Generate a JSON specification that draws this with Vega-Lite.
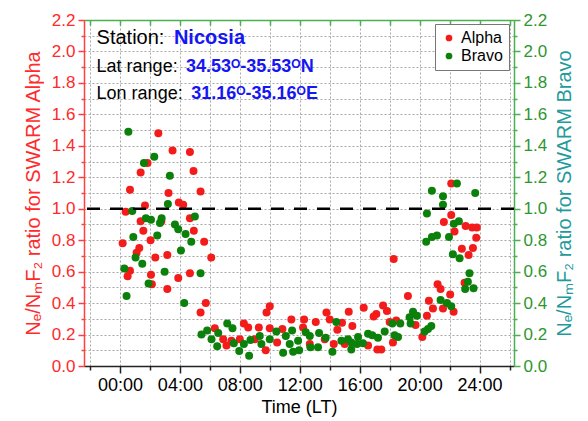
{
"$schema": "https://vega.github.io/schema/vega-lite/v6.json",
"width": 430, "height": 346,
"autosize": {"type": "none"},
"padding": {"left": 84, "top": 20, "right": 74, "bottom": 55},
"config": {"view": {"stroke": null}, "font": "Liberation Sans", "background": "white"},
"datasets": {
"alpha": [
{"t":2.56,"r":1.48,"sat":"Alpha"},{"t":3.51,"r":1.37,"sat":"Alpha"},{"t":4.67,"r":1.36,"sat":"Alpha"},{"t":1.84,"r":1.29,"sat":"Alpha"},{"t":1.38,"r":1.23,"sat":"Alpha"},{"t":4.91,"r":1.24,"sat":"Alpha"},{"t":0.67,"r":1.12,"sat":"Alpha"},{"t":5.38,"r":1.11,"sat":"Alpha"},{"t":3.24,"r":1.10,"sat":"Alpha"},{"t":1.67,"r":1.02,"sat":"Alpha"},{"t":3.93,"r":1.04,"sat":"Alpha"},{"t":4.22,"r":1.025,"sat":"Alpha"},{"t":0.38,"r":0.98,"sat":"Alpha"},{"t":4.67,"r":0.94,"sat":"Alpha"},{"t":1.38,"r":0.92,"sat":"Alpha"},{"t":2.76,"r":0.92,"sat":"Alpha"},{"t":4.93,"r":0.86,"sat":"Alpha"},{"t":1.56,"r":0.86,"sat":"Alpha"},{"t":2.04,"r":0.80,"sat":"Alpha"},{"t":0.18,"r":0.78,"sat":"Alpha"},{"t":5.62,"r":0.79,"sat":"Alpha"},{"t":1.29,"r":0.75,"sat":"Alpha"},{"t":1.11,"r":0.72,"sat":"Alpha"},{"t":3.16,"r":0.705,"sat":"Alpha"},{"t":2.36,"r":0.69,"sat":"Alpha"},{"t":6.09,"r":0.69,"sat":"Alpha"},{"t":0.67,"r":0.605,"sat":"Alpha"},{"t":0.51,"r":0.57,"sat":"Alpha"},{"t":4.67,"r":0.59,"sat":"Alpha"},{"t":2.07,"r":0.58,"sat":"Alpha"},{"t":3.89,"r":0.56,"sat":"Alpha"},{"t":2.13,"r":0.52,"sat":"Alpha"},{"t":3.16,"r":0.49,"sat":"Alpha"},{"t":5.73,"r":0.40,"sat":"Alpha"},{"t":5.38,"r":0.34,"sat":"Alpha"},
{"t":10.0,"r":0.38,"sat":"Alpha"},{"t":9.78,"r":0.34,"sat":"Alpha"},{"t":13.78,"r":0.34,"sat":"Alpha"},{"t":6.33,"r":0.24,"sat":"Alpha"},{"t":6.89,"r":0.17,"sat":"Alpha"},{"t":7.11,"r":0.13,"sat":"Alpha"},{"t":8.27,"r":0.27,"sat":"Alpha"},{"t":8.56,"r":0.245,"sat":"Alpha"},{"t":8.0,"r":0.17,"sat":"Alpha"},{"t":9.27,"r":0.245,"sat":"Alpha"},{"t":9.73,"r":0.10,"sat":"Alpha"},{"t":10.0,"r":0.24,"sat":"Alpha"},{"t":10.49,"r":0.15,"sat":"Alpha"},{"t":10.84,"r":0.235,"sat":"Alpha"},{"t":11.44,"r":0.295,"sat":"Alpha"},{"t":12.29,"r":0.295,"sat":"Alpha"},{"t":12.22,"r":0.245,"sat":"Alpha"},{"t":12.67,"r":0.14,"sat":"Alpha"},{"t":13.07,"r":0.28,"sat":"Alpha"},{"t":13.67,"r":0.17,"sat":"Alpha"},{"t":14.0,"r":0.295,"sat":"Alpha"},{"t":14.51,"r":0.23,"sat":"Alpha"},{"t":14.27,"r":0.14,"sat":"Alpha"},{"t":9.0,"r":0.17,"sat":"Alpha"},{"t":7.44,"r":0.16,"sat":"Alpha"},
{"t":21.2,"r":0.52,"sat":"Alpha"},{"t":21.4,"r":0.49,"sat":"Alpha"},{"t":22.04,"r":0.455,"sat":"Alpha"},{"t":19.22,"r":0.445,"sat":"Alpha"},{"t":20.62,"r":0.415,"sat":"Alpha"},{"t":20.89,"r":0.365,"sat":"Alpha"},{"t":21.56,"r":0.365,"sat":"Alpha"},{"t":22.27,"r":0.345,"sat":"Alpha"},{"t":16.27,"r":0.37,"sat":"Alpha"},{"t":17.56,"r":0.385,"sat":"Alpha"},{"t":17.82,"r":0.35,"sat":"Alpha"},{"t":15.27,"r":0.345,"sat":"Alpha"},{"t":17.11,"r":0.33,"sat":"Alpha"},{"t":16.93,"r":0.315,"sat":"Alpha"},{"t":20.49,"r":0.32,"sat":"Alpha"},{"t":19.73,"r":0.26,"sat":"Alpha"},{"t":14.82,"r":0.275,"sat":"Alpha"},{"t":15.51,"r":0.255,"sat":"Alpha"},{"t":18.0,"r":0.28,"sat":"Alpha"},{"t":18.44,"r":0.29,"sat":"Alpha"},{"t":20.18,"r":0.185,"sat":"Alpha"},{"t":18.22,"r":0.15,"sat":"Alpha"},{"t":16.56,"r":0.13,"sat":"Alpha"},{"t":15.0,"r":0.14,"sat":"Alpha"},{"t":17.18,"r":0.105,"sat":"Alpha"},{"t":17.44,"r":0.105,"sat":"Alpha"},
{"t":22.11,"r":1.16,"sat":"Alpha"},{"t":22.11,"r":0.96,"sat":"Alpha"},{"t":21.62,"r":0.915,"sat":"Alpha"},{"t":23.07,"r":0.89,"sat":"Alpha"},{"t":23.51,"r":0.88,"sat":"Alpha"},{"t":23.82,"r":0.88,"sat":"Alpha"},{"t":22.33,"r":0.855,"sat":"Alpha"},{"t":23.78,"r":0.815,"sat":"Alpha"},{"t":23.56,"r":0.75,"sat":"Alpha"},{"t":22.82,"r":0.745,"sat":"Alpha"},{"t":23.27,"r":0.705,"sat":"Alpha"},{"t":23.0,"r":0.53,"sat":"Alpha"},{"t":18.27,"r":0.68,"sat":"Alpha"}
],
"bravo": [
{"t":0.56,"r":1.49,"sat":"Bravo"},{"t":2.29,"r":1.33,"sat":"Bravo"},{"t":1.6,"r":1.29,"sat":"Bravo"},{"t":3.33,"r":1.21,"sat":"Bravo"},{"t":3.2,"r":1.03,"sat":"Bravo"},{"t":0.82,"r":0.985,"sat":"Bravo"},{"t":5.0,"r":0.95,"sat":"Bravo"},{"t":1.73,"r":0.94,"sat":"Bravo"},{"t":2.07,"r":0.93,"sat":"Bravo"},{"t":2.78,"r":0.94,"sat":"Bravo"},{"t":2.67,"r":0.91,"sat":"Bravo"},{"t":3.67,"r":0.90,"sat":"Bravo"},{"t":3.89,"r":0.87,"sat":"Bravo"},{"t":4.38,"r":0.84,"sat":"Bravo"},{"t":2.49,"r":0.83,"sat":"Bravo"},{"t":0.89,"r":0.82,"sat":"Bravo"},{"t":4.76,"r":0.79,"sat":"Bravo"},{"t":4.07,"r":0.735,"sat":"Bravo"},{"t":1.04,"r":0.69,"sat":"Bravo"},{"t":1.49,"r":0.65,"sat":"Bravo"},{"t":0.29,"r":0.62,"sat":"Bravo"},{"t":2.98,"r":0.60,"sat":"Bravo"},{"t":5.38,"r":0.59,"sat":"Bravo"},{"t":1.91,"r":0.525,"sat":"Bravo"},{"t":0.44,"r":0.445,"sat":"Bravo"},{"t":4.29,"r":0.40,"sat":"Bravo"},
{"t":5.82,"r":0.225,"sat":"Bravo"},{"t":5.44,"r":0.20,"sat":"Bravo"},{"t":6.56,"r":0.21,"sat":"Bravo"},{"t":6.11,"r":0.17,"sat":"Bravo"},{"t":6.49,"r":0.125,"sat":"Bravo"},{"t":7.16,"r":0.27,"sat":"Bravo"},{"t":7.51,"r":0.24,"sat":"Bravo"},{"t":7.6,"r":0.145,"sat":"Bravo"},{"t":8.27,"r":0.14,"sat":"Bravo"},{"t":7.96,"r":0.095,"sat":"Bravo"},{"t":8.62,"r":0.065,"sat":"Bravo"},{"t":8.71,"r":0.165,"sat":"Bravo"},{"t":9.33,"r":0.19,"sat":"Bravo"},{"t":9.44,"r":0.14,"sat":"Bravo"},{"t":10.0,"r":0.17,"sat":"Bravo"},{"t":10.44,"r":0.22,"sat":"Bravo"},{"t":10.89,"r":0.085,"sat":"Bravo"},{"t":11.07,"r":0.19,"sat":"Bravo"},{"t":11.49,"r":0.225,"sat":"Bravo"},{"t":11.33,"r":0.14,"sat":"Bravo"},{"t":11.89,"r":0.16,"sat":"Bravo"},{"t":11.56,"r":0.09,"sat":"Bravo"},{"t":11.96,"r":0.10,"sat":"Bravo"},{"t":12.4,"r":0.215,"sat":"Bravo"},{"t":12.67,"r":0.19,"sat":"Bravo"},{"t":12.71,"r":0.12,"sat":"Bravo"},{"t":13.29,"r":0.21,"sat":"Bravo"},{"t":13.22,"r":0.12,"sat":"Bravo"},{"t":13.73,"r":0.18,"sat":"Bravo"},{"t":14.44,"r":0.28,"sat":"Bravo"},{"t":14.18,"r":0.09,"sat":"Bravo"},
{"t":21.4,"r":0.42,"sat":"Bravo"},{"t":21.82,"r":0.40,"sat":"Bravo"},{"t":22.11,"r":0.38,"sat":"Bravo"},{"t":19.56,"r":0.345,"sat":"Bravo"},{"t":19.33,"r":0.31,"sat":"Bravo"},{"t":19.82,"r":0.32,"sat":"Bravo"},{"t":19.4,"r":0.27,"sat":"Bravo"},{"t":18.18,"r":0.27,"sat":"Bravo"},{"t":18.71,"r":0.27,"sat":"Bravo"},{"t":20.78,"r":0.255,"sat":"Bravo"},{"t":20.56,"r":0.235,"sat":"Bravo"},{"t":20.33,"r":0.22,"sat":"Bravo"},{"t":17.67,"r":0.22,"sat":"Bravo"},{"t":18.33,"r":0.195,"sat":"Bravo"},{"t":18.56,"r":0.185,"sat":"Bravo"},{"t":16.56,"r":0.205,"sat":"Bravo"},{"t":16.84,"r":0.195,"sat":"Bravo"},{"t":17.22,"r":0.18,"sat":"Bravo"},{"t":15.89,"r":0.185,"sat":"Bravo"},{"t":15.22,"r":0.17,"sat":"Bravo"},{"t":14.78,"r":0.16,"sat":"Bravo"},{"t":15.44,"r":0.15,"sat":"Bravo"},{"t":16.22,"r":0.145,"sat":"Bravo"},{"t":15.82,"r":0.14,"sat":"Bravo"},{"t":15.44,"r":0.105,"sat":"Bravo"},
{"t":22.49,"r":1.16,"sat":"Bravo"},{"t":20.82,"r":1.115,"sat":"Bravo"},{"t":23.71,"r":1.10,"sat":"Bravo"},{"t":21.56,"r":1.08,"sat":"Bravo"},{"t":21.56,"r":1.025,"sat":"Bravo"},{"t":20.49,"r":0.97,"sat":"Bravo"},{"t":22.62,"r":0.92,"sat":"Bravo"},{"t":22.29,"r":0.905,"sat":"Bravo"},{"t":21.96,"r":0.82,"sat":"Bravo"},{"t":21.16,"r":0.83,"sat":"Bravo"},{"t":20.82,"r":0.82,"sat":"Bravo"},{"t":20.44,"r":0.79,"sat":"Bravo"},{"t":22.22,"r":0.71,"sat":"Bravo"},{"t":22.67,"r":0.685,"sat":"Bravo"},{"t":23.33,"r":0.59,"sat":"Bravo"},{"t":23.22,"r":0.535,"sat":"Bravo"},{"t":23.6,"r":0.495,"sat":"Bravo"},{"t":23.04,"r":0.49,"sat":"Bravo"}
]
},
"layer": [
{
"data": {"name": "alpha"},
"mark": {"type": "circle", "size": 64, "opacity": 1},
"encoding": {
"x": {"field": "t", "type": "quantitative", "scale": {"domain": [-2.4, 26.3], "nice": false, "zero": false},
"axis": {"orient": "bottom", "values": [-2,0,2,4,6,8,10,12,14,16,18,20,22,24,26],
"labelExpr": "datum.value % 4 == 0 && datum.value >= 0 && datum.value <= 24 ? (datum.value < 10 ? '0' : '') + datum.value + ':00' : ''",
"labelFontSize": 18, "labelColor": "black", "labelFont": "Liberation Sans", "labelPadding": 3,
"tickColor": "#222", "domainColor": "#222", "domainWidth": 1.5, "tickWidth": 1.5,
"tickSize": {"condition": {"test": "datum.value % 4 == 0", "value": 7}, "value": 4},
"title": "Time (LT)", "titleFontSize": 18, "titleFontWeight": "normal", "titleColor": "black", "titleFont": "Liberation Sans", "titlePadding": 4,
"grid": true, "gridColor": "#a8a8a8", "gridDash": [2, 2], "labelFlush": false, "labelOverlap": false}},
"y": {"field": "r", "type": "quantitative", "scale": {"domain": [0, 2.2], "nice": false},
"axis": {"orient": "left", "values": [0,0.1,0.2,0.3,0.4,0.5,0.6,0.7,0.8,0.9,1,1.1,1.2,1.3,1.4,1.5,1.6,1.7,1.8,1.9,2,2.1,2.2],
"labelExpr": "round(datum.value*10) % 2 == 0 ? format(datum.value, '.1f') : ''",
"labelFontSize": 17, "labelColor": "#ff2a2a", "labelFont": "Liberation Sans", "labelPadding": 3,
"tickColor": "#ff4040", "domainColor": "#ff4040", "domainWidth": 1.5, "tickWidth": 1.5,
"tickSize": {"condition": {"test": "round(datum.value*10) % 2 == 0", "value": 6}, "value": 3},
"title": "Nₑ/NₘF₂ ratio for SWARM Alpha", "titleColor": "#ff2a2a", "titleFontSize": 20, "titleFontWeight": "normal", "titleFont": "Liberation Sans", "titlePadding": 8,
"grid": true, "gridColor": "#a8a8a8", "gridDash": [2, 2], "labelOverlap": false, "labelFlush": false}},
"color": {"field": "sat", "type": "nominal", "scale": {"domain": ["Alpha", "Bravo"], "range": ["#f41b1b", "#0b800b"]},
"legend": {"orient": "none", "legendX": 351, "legendY": 4, "title": null, "fillColor": "white", "strokeColor": "#777", "padding": 6,
"symbolType": "circle", "symbolSize": 45, "labelFontSize": 16, "labelFont": "Liberation Sans", "labelColor": "black", "rowPadding": 2, "cornerRadius": 0}}
}
},
{
"data": {"name": "bravo"},
"mark": {"type": "circle", "size": 64, "opacity": 1},
"encoding": {
"x": {"field": "t", "type": "quantitative", "scale": {"domain": [-2.4, 26.3], "nice": false, "zero": false},
"axis": {"orient": "top", "values": [-2,0,2,4,6,8,10,12,14,16,18,20,22,24,26], "labels": false, "title": null, "grid": false, "domain": false,
"tickColor": "#4caf50", "tickWidth": 1.5, "tickSize": 5, "offset": -5}},
"y": {"field": "r", "type": "quantitative", "scale": {"domain": [0, 2.2], "nice": false},
"axis": {"orient": "right", "values": [0,0.1,0.2,0.3,0.4,0.5,0.6,0.7,0.8,0.9,1,1.1,1.2,1.3,1.4,1.5,1.6,1.7,1.8,1.9,2,2.1,2.2],
"labelExpr": "round(datum.value*10) % 2 == 0 ? format(datum.value, '.1f') : ''",
"labelFontSize": 17, "labelColor": "#2e962e", "labelFont": "Liberation Sans", "labelPadding": 3,
"tickColor": "#4caf50", "domainColor": "#4caf50", "domainWidth": 1.5, "tickWidth": 1.5,
"tickSize": {"condition": {"test": "round(datum.value*10) % 2 == 0", "value": 6}, "value": 3},
"title": "Nₑ/NₘF₂ ratio for SWARM Bravo", "titleColor": "#1f9b9b", "titleFontSize": 20, "titleFontWeight": "normal", "titleFont": "Liberation Sans", "titlePadding": 8, "titleAngle": 270, "titleBaseline": "top",
"grid": false, "labelOverlap": false, "labelFlush": false}},
"color": {"field": "sat", "type": "nominal", "scale": {"domain": ["Alpha", "Bravo"], "range": ["#f41b1b", "#0b800b"]}}
}
},
{
"data": {"values": [{}]},
"mark": {"type": "rule", "color": "black", "strokeDash": [13, 10], "strokeWidth": 2.5},
"encoding": {"y": {"datum": 1, "scale": {"domain": [0, 2.2], "nice": false}, "axis": null}}
},
{
"data": {"values": [{}]},
"mark": {"type": "text", "text": "Station: ", "align": "left", "baseline": "middle", "fontSize": 20, "font": "Liberation Sans", "color": "black"},
"encoding": {"x": {"datum": -1.56, "scale": {"domain": [-2.4, 26.3], "nice": false, "zero": false},
"axis": {"orient": "top", "values": [0], "labels": false, "ticks": false, "grid": false, "title": null, "domain": true, "domainColor": "#4caf50", "domainWidth": 1.5}},
"y": {"datum": 2.085, "scale": {"domain": [0, 2.2], "nice": false}, "axis": null}}
},
{
"data": {"values": [{}]},
"mark": {"type": "text", "text": "Nicosia", "align": "left", "baseline": "middle", "fontSize": 20, "fontWeight": "bold", "font": "Liberation Sans", "color": "#1515f5"},
"encoding": {"x": {"datum": 3.6, "scale": {"domain": [-2.4, 26.3], "nice": false, "zero": false}, "axis": null}, "y": {"datum": 2.085, "scale": {"domain": [0, 2.2], "nice": false}, "axis": null}}
},
{
"data": {"values": [{}]},
"mark": {"type": "text", "text": "Lat range: ", "align": "left", "baseline": "middle", "fontSize": 18, "font": "Liberation Sans", "color": "black"},
"encoding": {"x": {"datum": -1.56, "scale": {"domain": [-2.4, 26.3], "nice": false, "zero": false}, "axis": null}, "y": {"datum": 1.9, "scale": {"domain": [0, 2.2], "nice": false}, "axis": null}}
},
{
"data": {"values": [{}]},
"mark": {"type": "text", "text": "34.53ᴼ-35.53ᴼN", "align": "left", "baseline": "middle", "fontSize": 18, "fontWeight": "bold", "font": "Liberation Sans", "color": "#1515f5"},
"encoding": {"x": {"datum": 4.4, "scale": {"domain": [-2.4, 26.3], "nice": false, "zero": false}, "axis": null}, "y": {"datum": 1.9, "scale": {"domain": [0, 2.2], "nice": false}, "axis": null}}
},
{
"data": {"values": [{}]},
"mark": {"type": "text", "text": "Lon range: ", "align": "left", "baseline": "middle", "fontSize": 18, "font": "Liberation Sans", "color": "black"},
"encoding": {"x": {"datum": -1.56, "scale": {"domain": [-2.4, 26.3], "nice": false, "zero": false}, "axis": null}, "y": {"datum": 1.73, "scale": {"domain": [0, 2.2], "nice": false}, "axis": null}}
},
{
"data": {"values": [{}]},
"mark": {"type": "text", "text": "31.16ᴼ-35.16ᴼE", "align": "left", "baseline": "middle", "fontSize": 18, "fontWeight": "bold", "font": "Liberation Sans", "color": "#1515f5"},
"encoding": {"x": {"datum": 4.75, "scale": {"domain": [-2.4, 26.3], "nice": false, "zero": false}, "axis": null}, "y": {"datum": 1.73, "scale": {"domain": [0, 2.2], "nice": false}, "axis": null}}
}
],
"resolve": {"scale": {"x": "independent", "y": "independent"}, "axis": {"x": "independent", "y": "independent"}}
}
